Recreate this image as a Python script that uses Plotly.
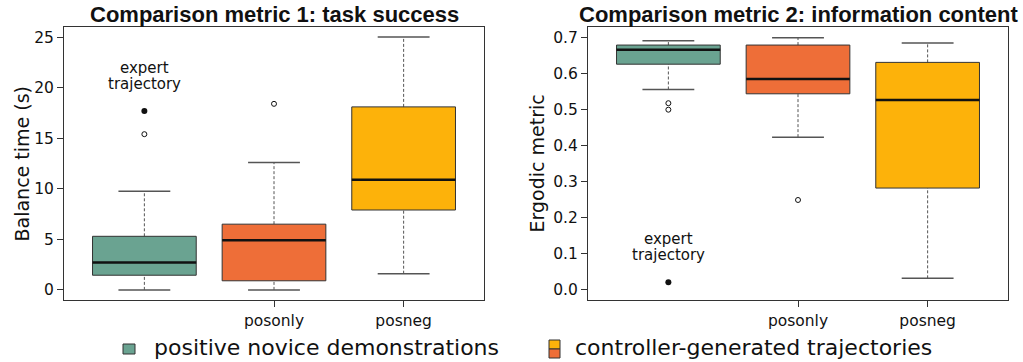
import plotly.graph_objects as go
from plotly.subplots import make_subplots

# ---- data -----------------------------------------------------------------
tick_labels = ["", "posonly", "posneg"]
positions = [1, 2, 3]
box_colors = ["#6aa391", "#ee6e38", "#fdb20a"]

# Comparison metric 1: balance time (s)
succ_lower = [0.0, 0.0, 1.6]
succ_q1 = [1.45, 0.9, 7.9]
succ_median = [2.7, 4.9, 10.9]
succ_q3 = [5.3, 6.5, 18.1]
succ_upper = [9.75, 12.6, 25.0]
succ_outliers = [[15.4], [18.4], []]
succ_expert = 17.7

# Comparison metric 2: ergodic metric
erg_lower = [0.555, 0.423, 0.032]
erg_q1 = [0.625, 0.543, 0.282]
erg_median = [0.665, 0.584, 0.526]
erg_q3 = [0.678, 0.678, 0.630]
erg_upper = [0.690, 0.698, 0.684]
erg_outliers = [[0.517, 0.499], [0.249], []]
erg_expert = 0.021

# ---- figure ---------------------------------------------------------------
W, H = 1023, 362
BOX_HALF = 0.4
CAP_HALF = 0.2
FONT = "DejaVu Sans"

fig = make_subplots(rows=1, cols=2)


def add_panel(col, lower, q1, med, q3, upper, outliers, expert):
    for i, p in enumerate(positions):
        # dashed whiskers
        for a, b in ((q3[i], upper[i]), (lower[i], q1[i])):
            fig.add_trace(go.Scatter(
                x=[p, p], y=[a, b], mode="lines",
                line=dict(color="#555555", width=1, dash="3px,2px"),
                hoverinfo="skip", showlegend=False), row=1, col=col)
        # whisker caps
        for v in (lower[i], upper[i]):
            fig.add_trace(go.Scatter(
                x=[p - CAP_HALF, p + CAP_HALF], y=[v, v], mode="lines",
                line=dict(color="#555555", width=1.5),
                hoverinfo="skip", showlegend=False), row=1, col=col)
        # box
        fig.add_trace(go.Scatter(
            x=[p - BOX_HALF, p + BOX_HALF, p + BOX_HALF, p - BOX_HALF, p - BOX_HALF],
            y=[q1[i], q1[i], q3[i], q3[i], q1[i]],
            mode="lines", fill="toself", fillcolor=box_colors[i],
            line=dict(color="#333333", width=1),
            hoverinfo="skip", showlegend=False), row=1, col=col)
        # median
        fig.add_trace(go.Scatter(
            x=[p - BOX_HALF, p + BOX_HALF], y=[med[i], med[i]], mode="lines",
            line=dict(color="#111111", width=2.5),
            hoverinfo="skip", showlegend=False), row=1, col=col)
        # outliers
        if outliers[i]:
            fig.add_trace(go.Scatter(
                x=[p] * len(outliers[i]), y=outliers[i], mode="markers",
                marker=dict(symbol="circle-open", size=5, color="#111111",
                            line=dict(width=1)),
                hoverinfo="skip", showlegend=False), row=1, col=col)
    # expert trajectory
    fig.add_trace(go.Scatter(
        x=[positions[0]], y=[expert], mode="markers",
        marker=dict(symbol="circle", size=6, color="#111111"),
        hoverinfo="skip", showlegend=False), row=1, col=col)
    xref = "x" if col == 1 else "x2"
    yref = "y" if col == 1 else "y2"
    for txt, shift in (("expert", 43), ("trajectory", 27)):
        fig.add_annotation(x=positions[0], y=expert, xref=xref, yref=yref,
                           text=txt, showarrow=False, yshift=shift,
                           xanchor="center", yanchor="middle",
                           font=dict(family=FONT, size=15, color="#111111"))


add_panel(1, succ_lower, succ_q1, succ_median, succ_q3, succ_upper,
          succ_outliers, succ_expert)
add_panel(2, erg_lower, erg_q1, erg_median, erg_q3, erg_upper,
          erg_outliers, erg_expert)


def px_x(v):
    return v / W


def px_y(v):
    return (H - v) / H


dom1 = [px_x(64), px_x(484)]
dom2 = [px_x(588), px_x(1008)]
ydom = [px_y(300), px_y(27)]

axis_common = dict(showgrid=False, zeroline=False, showline=True, mirror=True,
                   linecolor="#333333", linewidth=1, ticks="outside", ticklen=6,
                   tickcolor="#333333",
                   tickfont=dict(family=FONT, size=15.5, color="#111111"))

fig.update_xaxes(range=[0.38, 3.62], tickvals=positions[1:],
                 ticktext=tick_labels[1:], **axis_common)
fig.update_xaxes(domain=dom1, row=1, col=1)
fig.update_xaxes(domain=dom2, row=1, col=2)
fig.update_yaxes(domain=ydom, **axis_common)
fig.update_yaxes(range=[-1, 26], tickvals=[0, 5, 10, 15, 20, 25], row=1, col=1)
fig.update_yaxes(range=[-0.028, 0.728],
                 tickvals=[0, 0.1, 0.2, 0.3, 0.4, 0.5, 0.6, 0.7],
                 tickformat=".1f", row=1, col=2)

# panel titles
for dom, txt in ((dom1, "Comparison metric 1: task success"),
                 (dom2, "Comparison metric 2: information content")):
    fig.add_annotation(x=(dom[0] + dom[1]) / 2, y=px_y(14), xref="paper", yref="paper",
                       text=f"<b>{txt}</b>", showarrow=False,
                       xanchor="center", yanchor="middle",
                       font=dict(family="Liberation Sans", size=22, color="#111111"))

# y-axis titles
for xp, txt in ((21, "Balance time (s)"), (536, "Ergodic metric")):
    fig.add_annotation(x=px_x(xp), y=px_y(163.5), xref="paper", yref="paper",
                       text=txt, textangle=-90, showarrow=False,
                       xanchor="center", yanchor="middle",
                       font=dict(family=FONT, size=19, color="#111111"))

# legend
legend_font = dict(family=FONT, size=22, color="#111111")
fig.add_shape(type="rect", xref="paper", yref="paper",
              x0=px_x(123), x1=px_x(135), y0=px_y(354), y1=px_y(344),
              fillcolor=box_colors[0], line=dict(color="#333333", width=1))
fig.add_annotation(x=px_x(152), y=px_y(347), xref="paper", yref="paper",
                   text="positive novice demonstrations", showarrow=False,
                   xanchor="left", yanchor="middle", font=legend_font)
fig.add_shape(type="rect", xref="paper", yref="paper",
              x0=px_x(549), x1=px_x(560), y0=px_y(349), y1=px_y(340),
              fillcolor=box_colors[2], line=dict(color="#333333", width=1))
fig.add_shape(type="rect", xref="paper", yref="paper",
              x0=px_x(549), x1=px_x(560), y0=px_y(358), y1=px_y(349),
              fillcolor=box_colors[1], line=dict(color="#333333", width=1))
fig.add_annotation(x=px_x(573), y=px_y(347), xref="paper", yref="paper",
                   text="controller-generated trajectories", showarrow=False,
                   xanchor="left", yanchor="middle", font=legend_font)

fig.update_layout(width=W, height=H, margin=dict(l=0, r=0, t=0, b=0),
                  plot_bgcolor="white", paper_bgcolor="white",
                  showlegend=False)

fig.write_html("out.html")
